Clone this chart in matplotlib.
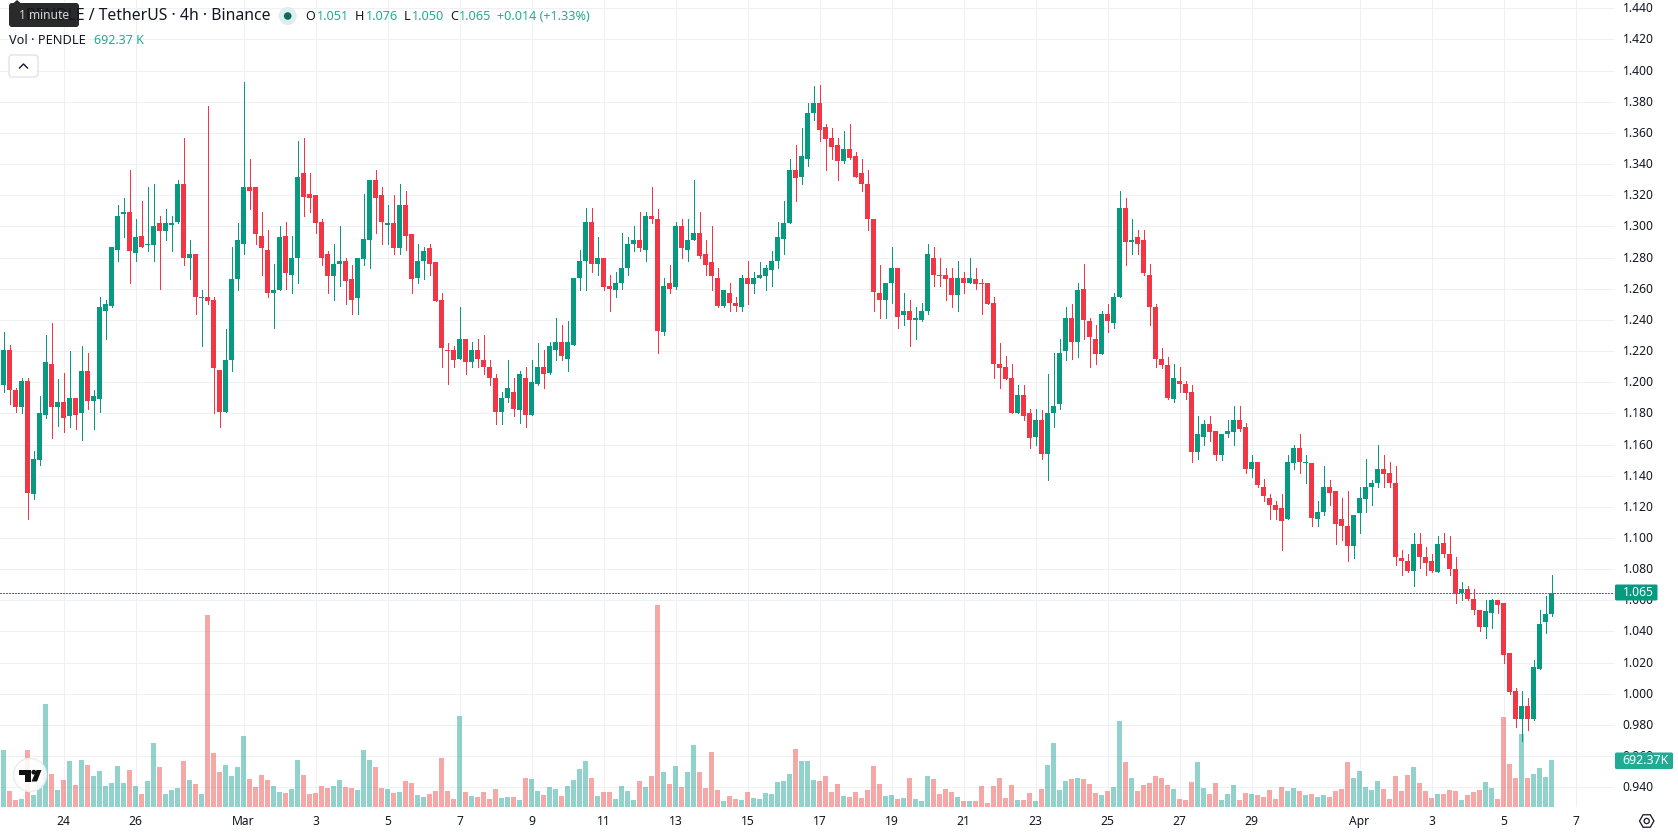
import matplotlib
matplotlib.use("Agg")
import matplotlib.pyplot as plt
from matplotlib.patches import Circle, FancyBboxPatch, Polygon, RegularPolygon
from matplotlib.transforms import ScaledTranslation

plt.rcParams["font.family"] = ["Noto Sans", "DejaVu Sans"]

# PENDLE / USDT, 4h candles, starting 22 Feb 08:00
opens = [
    1.198, 1.221, 1.195, 1.184, 1.201, 1.128, 1.150, 1.179, 1.212, 1.184,
    1.187, 1.178, 1.190, 1.180, 1.207, 1.188, 1.189, 1.246, 1.249, 1.285,
    1.308, 1.309, 1.283, 1.294, 1.288, 1.288, 1.302, 1.297, 1.301, 1.303,
    1.327, 1.280, 1.282, 1.254, 1.255, 1.253, 1.208, 1.181, 1.214, 1.266,
    1.289, 1.325, 1.325, 1.294, 1.285, 1.257, 1.259, 1.294, 1.269, 1.280,
    1.334, 1.321, 1.320, 1.303, 1.282, 1.268, 1.276, 1.278, 1.266, 1.254,
    1.279, 1.291, 1.330, 1.320, 1.301, 1.302, 1.286, 1.314, 1.295, 1.267,
    1.278, 1.286, 1.277, 1.253, 1.221, 1.221, 1.215, 1.228, 1.213, 1.221,
    1.214, 1.210, 1.203, 1.181, 1.190, 1.194, 1.182, 1.203, 1.179, 1.199,
    1.210, 1.206, 1.221, 1.226, 1.215, 1.224, 1.267, 1.278, 1.303, 1.276,
    1.280, 1.262, 1.259, 1.264, 1.273, 1.289, 1.291, 1.285, 1.307, 1.305,
    1.232, 1.264, 1.261, 1.300, 1.285, 1.291, 1.296, 1.282, 1.277, 1.267,
    1.249, 1.257, 1.251, 1.248, 1.267, 1.263, 1.267, 1.268, 1.272, 1.278,
    1.292, 1.302, 1.336, 1.332, 1.343, 1.373, 1.379, 1.364, 1.357, 1.352,
    1.342, 1.350, 1.345, 1.334, 1.327, 1.305, 1.257, 1.253, 1.264, 1.273,
    1.243, 1.246, 1.240, 1.240, 1.246, 1.280, 1.269, 1.269, 1.267, 1.256,
    1.267, 1.264, 1.266, 1.264, 1.264, 1.251, 1.212, 1.210, 1.203, 1.180,
    1.192, 1.180, 1.165, 1.176, 1.154, 1.180, 1.186, 1.220, 1.241, 1.226,
    1.260, 1.239, 1.228, 1.218, 1.244, 1.238, 1.255, 1.312, 1.290, 1.293,
    1.291, 1.269, 1.248, 1.215, 1.211, 1.189, 1.201, 1.199, 1.194, 1.155,
    1.165, 1.173, 1.169, 1.153, 1.167, 1.168, 1.176, 1.171, 1.144, 1.149,
    1.133, 1.126, 1.121, 1.119, 1.112, 1.148, 1.158, 1.148, 1.148, 1.112,
    1.117, 1.133, 1.130, 1.112, 1.108, 1.095, 1.116, 1.125, 1.133, 1.135,
    1.144, 1.142, 1.135, 1.087, 1.085, 1.079, 1.096, 1.088, 1.085, 1.078,
    1.097, 1.090, 1.080, 1.065, 1.067, 1.061, 1.054, 1.043, 1.052, 1.060,
    1.058, 1.026, 1.002, 0.984, 0.992, 0.984, 1.016, 1.046, 1.051,
]
highs = [
    1.232, 1.224, 1.196, 1.203, 1.203, 1.156, 1.191, 1.230, 1.238, 1.202,
    1.206, 1.220, 1.190, 1.223, 1.219, 1.195, 1.255, 1.253, 1.287, 1.314,
    1.318, 1.336, 1.305, 1.316, 1.325, 1.327, 1.307, 1.311, 1.307, 1.330,
    1.357, 1.291, 1.282, 1.259, 1.377, 1.255, 1.208, 1.234, 1.287, 1.302,
    1.393, 1.343, 1.325, 1.309, 1.298, 1.276, 1.300, 1.303, 1.294, 1.355,
    1.357, 1.334, 1.320, 1.305, 1.284, 1.289, 1.300, 1.280, 1.275, 1.280,
    1.321, 1.330, 1.336, 1.325, 1.314, 1.320, 1.327, 1.323, 1.295, 1.289,
    1.287, 1.289, 1.277, 1.257, 1.225, 1.223, 1.248, 1.228, 1.226, 1.228,
    1.230, 1.214, 1.205, 1.194, 1.214, 1.203, 1.207, 1.210, 1.214, 1.225,
    1.221, 1.226, 1.241, 1.237, 1.239, 1.267, 1.285, 1.312, 1.312, 1.293,
    1.280, 1.269, 1.271, 1.296, 1.293, 1.300, 1.309, 1.309, 1.325, 1.311,
    1.267, 1.275, 1.303, 1.305, 1.305, 1.330, 1.309, 1.291, 1.300, 1.273,
    1.259, 1.264, 1.255, 1.269, 1.278, 1.271, 1.277, 1.275, 1.284, 1.303,
    1.316, 1.343, 1.352, 1.363, 1.379, 1.390, 1.391, 1.366, 1.363, 1.357,
    1.361, 1.366, 1.348, 1.343, 1.336, 1.305, 1.275, 1.264, 1.287, 1.273,
    1.257, 1.253, 1.248, 1.251, 1.289, 1.287, 1.280, 1.273, 1.273, 1.278,
    1.271, 1.280, 1.273, 1.266, 1.264, 1.255, 1.225, 1.217, 1.212, 1.198,
    1.198, 1.183, 1.183, 1.182, 1.205, 1.219, 1.228, 1.248, 1.250, 1.264,
    1.276, 1.241, 1.237, 1.246, 1.250, 1.257, 1.323, 1.318, 1.305, 1.298,
    1.298, 1.276, 1.250, 1.222, 1.216, 1.212, 1.210, 1.201, 1.198, 1.178,
    1.176, 1.178, 1.169, 1.167, 1.176, 1.185, 1.185, 1.174, 1.153, 1.149,
    1.138, 1.128, 1.124, 1.128, 1.153, 1.160, 1.167, 1.153, 1.148, 1.124,
    1.146, 1.137, 1.130, 1.126, 1.130, 1.115, 1.133, 1.151, 1.137, 1.160,
    1.153, 1.149, 1.146, 1.092, 1.090, 1.103, 1.103, 1.094, 1.090, 1.101,
    1.103, 1.101, 1.088, 1.072, 1.069, 1.067, 1.054, 1.060, 1.061, 1.060,
    1.058, 1.026, 1.004, 1.002, 0.997, 1.022, 1.054, 1.063, 1.076,
]
lows = [
    1.194, 1.186, 1.181, 1.180, 1.112, 1.125, 1.147, 1.177, 1.164, 1.172,
    1.168, 1.171, 1.170, 1.163, 1.183, 1.170, 1.181, 1.228, 1.248, 1.278,
    1.293, 1.264, 1.278, 1.287, 1.284, 1.278, 1.260, 1.291, 1.284, 1.302,
    1.275, 1.266, 1.244, 1.223, 1.250, 1.180, 1.171, 1.181, 1.207, 1.259,
    1.282, 1.311, 1.289, 1.269, 1.255, 1.235, 1.259, 1.260, 1.257, 1.264,
    1.307, 1.309, 1.296, 1.275, 1.257, 1.253, 1.262, 1.250, 1.244, 1.244,
    1.275, 1.273, 1.296, 1.289, 1.289, 1.282, 1.282, 1.285, 1.257, 1.264,
    1.266, 1.269, 1.252, 1.210, 1.199, 1.210, 1.215, 1.205, 1.210, 1.210,
    1.205, 1.198, 1.173, 1.173, 1.187, 1.178, 1.174, 1.171, 1.179, 1.198,
    1.196, 1.205, 1.214, 1.214, 1.207, 1.224, 1.259, 1.259, 1.271, 1.269,
    1.259, 1.246, 1.255, 1.260, 1.269, 1.284, 1.284, 1.278, 1.302, 1.219,
    1.230, 1.257, 1.260, 1.280, 1.278, 1.291, 1.280, 1.269, 1.259, 1.248,
    1.248, 1.246, 1.246, 1.246, 1.250, 1.257, 1.267, 1.259, 1.262, 1.273,
    1.282, 1.302, 1.316, 1.327, 1.339, 1.368, 1.355, 1.336, 1.343, 1.330,
    1.341, 1.343, 1.332, 1.323, 1.298, 1.246, 1.241, 1.241, 1.251, 1.235,
    1.237, 1.223, 1.228, 1.239, 1.244, 1.262, 1.262, 1.253, 1.248, 1.246,
    1.257, 1.264, 1.260, 1.244, 1.250, 1.203, 1.196, 1.202, 1.180, 1.180,
    1.176, 1.158, 1.160, 1.151, 1.137, 1.171, 1.183, 1.214, 1.215, 1.216,
    1.228, 1.210, 1.212, 1.218, 1.232, 1.235, 1.255, 1.275, 1.282, 1.282,
    1.269, 1.237, 1.210, 1.209, 1.189, 1.187, 1.194, 1.189, 1.149, 1.151,
    1.160, 1.162, 1.150, 1.150, 1.165, 1.160, 1.169, 1.142, 1.139, 1.133,
    1.124, 1.112, 1.112, 1.092, 1.112, 1.144, 1.142, 1.135, 1.108, 1.108,
    1.115, 1.121, 1.096, 1.099, 1.085, 1.087, 1.103, 1.117, 1.121, 1.133,
    1.133, 1.133, 1.083, 1.076, 1.078, 1.069, 1.081, 1.076, 1.078, 1.078,
    1.088, 1.076, 1.058, 1.060, 1.060, 1.051, 1.040, 1.036, 1.042, 1.052,
    1.020, 1.000, 0.979, 0.970, 0.977, 0.983, 1.016, 1.039, 1.050,
]
closes = [
    1.221, 1.195, 1.184, 1.201, 1.129, 1.151, 1.180, 1.213, 1.184, 1.187,
    1.177, 1.190, 1.179, 1.207, 1.188, 1.191, 1.248, 1.250, 1.287, 1.307,
    1.309, 1.284, 1.293, 1.287, 1.289, 1.300, 1.297, 1.302, 1.302, 1.327,
    1.280, 1.282, 1.255, 1.255, 1.252, 1.209, 1.181, 1.214, 1.266, 1.291,
    1.325, 1.323, 1.295, 1.286, 1.257, 1.259, 1.293, 1.270, 1.280, 1.332,
    1.319, 1.318, 1.302, 1.280, 1.268, 1.276, 1.278, 1.265, 1.253, 1.280,
    1.292, 1.330, 1.318, 1.303, 1.302, 1.286, 1.314, 1.294, 1.266, 1.278,
    1.284, 1.276, 1.252, 1.222, 1.220, 1.214, 1.228, 1.213, 1.221, 1.215,
    1.210, 1.203, 1.181, 1.190, 1.196, 1.183, 1.205, 1.179, 1.200, 1.210,
    1.205, 1.223, 1.226, 1.217, 1.226, 1.267, 1.278, 1.303, 1.276, 1.280,
    1.261, 1.260, 1.264, 1.273, 1.289, 1.291, 1.286, 1.307, 1.305, 1.233,
    1.262, 1.260, 1.300, 1.286, 1.291, 1.296, 1.281, 1.275, 1.268, 1.249,
    1.259, 1.251, 1.249, 1.267, 1.263, 1.267, 1.269, 1.273, 1.278, 1.293,
    1.302, 1.336, 1.331, 1.345, 1.373, 1.379, 1.362, 1.356, 1.351, 1.342,
    1.350, 1.344, 1.332, 1.327, 1.305, 1.258, 1.253, 1.264, 1.273, 1.242,
    1.246, 1.240, 1.241, 1.246, 1.282, 1.269, 1.268, 1.266, 1.256, 1.267,
    1.264, 1.267, 1.263, 1.263, 1.250, 1.212, 1.209, 1.202, 1.180, 1.192,
    1.178, 1.164, 1.176, 1.154, 1.180, 1.185, 1.219, 1.241, 1.226, 1.259,
    1.240, 1.229, 1.218, 1.244, 1.239, 1.255, 1.312, 1.290, 1.291, 1.289,
    1.270, 1.248, 1.215, 1.211, 1.190, 1.203, 1.199, 1.193, 1.155, 1.167,
    1.173, 1.168, 1.153, 1.167, 1.169, 1.176, 1.170, 1.144, 1.149, 1.134,
    1.127, 1.121, 1.118, 1.111, 1.149, 1.158, 1.149, 1.149, 1.113, 1.117,
    1.133, 1.129, 1.109, 1.108, 1.095, 1.115, 1.126, 1.133, 1.135, 1.144,
    1.141, 1.135, 1.088, 1.085, 1.079, 1.096, 1.088, 1.084, 1.079, 1.096,
    1.090, 1.080, 1.064, 1.067, 1.061, 1.054, 1.043, 1.053, 1.060, 1.057,
    1.025, 1.001, 0.984, 0.992, 0.984, 1.017, 1.045, 1.051, 1.065,
]
volumes_k = [
    840, 236, 103, 118, 840, 177, 324, 1517, 486, 250,
    398, 678, 324, 692, 619, 457, 530, 309, 354, 604,
    354, 545, 309, 191, 383, 943, 589, 191, 250, 280,
    678, 398, 339, 191, 2828, 795, 516, 619, 457, 589,
    1046, 412, 295, 471, 398, 309, 221, 206, 265, 692,
    471, 191, 206, 309, 280, 309, 398, 295, 280, 250,
    840, 692, 589, 280, 265, 206, 221, 383, 354, 177,
    147, 191, 236, 722, 236, 118, 1340, 221, 162, 147,
    221, 118, 265, 133, 147, 147, 103, 427, 412, 236,
    177, 295, 265, 162, 309, 398, 560, 678, 427, 162,
    221, 221, 118, 309, 236, 103, 383, 295, 457, 2975,
    516, 339, 604, 295, 516, 913, 516, 280, 810, 250,
    88, 162, 118, 103, 221, 133, 118, 206, 191, 368,
    383, 486, 854, 678, 678, 398, 383, 457, 221, 339,
    162, 147, 221, 133, 250, 604, 339, 162, 177, 118,
    133, 427, 118, 88, 457, 412, 191, 265, 221, 147,
    88, 88, 88, 309, 59, 309, 427, 133, 324, 103,
    103, 206, 88, 265, 619, 943, 250, 383, 412, 427,
    412, 339, 206, 177, 236, 295, 1267, 663, 427, 236,
    324, 354, 457, 427, 324, 265, 118, 103, 368, 663,
    280, 191, 354, 103, 191, 324, 103, 206, 191, 177,
    147, 250, 118, 295, 236, 280, 236, 177, 191, 147,
    177, 147, 236, 265, 663, 427, 530, 295, 250, 383,
    265, 118, 457, 236, 471, 589, 354, 236, 133, 191,
    191, 250, 236, 103, 177, 221, 250, 368, 280, 118,
    1326, 633, 427, 1075, 427, 486, 574, 442, 692.37,
]

price_ticks = [1.44 - 0.02 * k for k in range(26)]
date_labels = ["24", "26", "Mar", "3", "5", "7", "9", "11", "13", "15", "17", "19",
               "21", "23", "25", "27", "29", "Apr", "3", "5", "7"]
date_candle_index = [10, 22, 40, 52, 64, 76, 88, 100, 112, 124, 136, 148,
                     160, 172, 184, 196, 208, 226, 238, 250, 262]
last_price = 1.065
last_volume_label = "692.37K"

UP, DOWN = "#089981", "#F23645"
UP_VOL, DOWN_VOL = "#26A69A", "#EF5350"
INK = "#131722"
GRID = "#EEF0F3"
TEAL = "#22AB94"

W, H = 1678, 835
fig = plt.figure(figsize=(W / 100, H / 100), dpi=100, facecolor="white")

# One candle is 6 px wide, the plotting area spans 0..1614 px across and 0..807 px down
PANE_W, PANE_H = 1614, 807
rect = [0, 1 - PANE_H / H, PANE_W / W, PANE_H / H]
xlim = (-3.5 / 6, (PANE_W - 3.5) / 6)
ylim = (0.94 - (PANE_H - 787.3) / 1558, 0.94 + 787.3 / 1558)
KPX = 14.73  # thousand units of volume per pixel of bar height

# Bottom layer: grid and axis labels
ax = fig.add_axes(rect)
ax.set_xlim(xlim)
ax.set_ylim(ylim)
for s in ax.spines.values():
    s.set_visible(False)
ax.set_axisbelow(True)
ax.grid(True, color=GRID, lw=0.72)
ax.yaxis.tick_right()
ax.set_yticks(price_ticks)
ax.set_yticklabels([f"{p:.3f}" for p in price_ticks])
ax.set_xticks(date_candle_index)
ax.set_xticklabels(date_labels)
ax.tick_params(axis="y", length=0, pad=6.2, labelsize=8.7, labelcolor=INK)
ax.tick_params(axis="x", length=0, pad=5.5, labelsize=8.7, labelcolor=INK)
for lab in ax.get_xticklabels():
    if lab.get_text() in ("Mar", "Apr"):
        lab.set_fontweight("bold")
# The price labels sit one pixel above their grid lines
nudge_up = ScaledTranslation(0, 1 / 100, fig.dpi_scale_trans)
for lab in ax.get_yticklabels():
    lab.set_transform(lab.get_transform() + nudge_up)

xs = list(range(len(closes)))
rising = [c >= o for o, c in zip(opens, closes)]

# Middle layer: volume histogram on its own scale
ax_vol = fig.add_axes(rect, sharex=ax, zorder=1)
ax_vol.patch.set_alpha(0)
ax_vol.axis("off")
ax_vol.set_ylim(0, PANE_H * KPX)
ax_vol.bar(xs, volumes_k, width=5 / 6, linewidth=0, alpha=0.5,
           color=[UP_VOL if r else DOWN_VOL for r in rising])

# Top layer: candlesticks and the last-price line
ax_px = fig.add_axes(rect, sharex=ax, sharey=ax, zorder=2)
ax_px.patch.set_alpha(0)
ax_px.axis("off")
colors = [UP if r else DOWN for r in rising]
ax_px.vlines(xs, lows, highs, colors=colors, linewidth=0.72, antialiased=False)
ax_px.bar(xs, [abs(c - o) for o, c in zip(opens, closes)],
          bottom=[min(o, c) for o, c in zip(opens, closes)],
          width=5 / 6, color=colors, linewidth=0)
ax_px.axhline(last_price, color=UP, lw=0.72, ls=(0, (1.5, 2)), antialiased=False)
ax_px.set_xlim(xlim)
ax_px.set_ylim(ylim)

# Overlay in screen pixels for the legend, tags and buttons
ui = fig.add_axes([0, 0, 1, 1], zorder=5)
ui.set_xlim(0, W)
ui.set_ylim(H, 0)
ui.axis("off")
ui.patch.set_alpha(0)

ui.text(270.7, 16, "PENDLE / TetherUS · 4h · Binance", fontsize=11.35, color=INK,
        ha="right", va="center")

ui.add_patch(Polygon([(13, 3.5), (17, 0), (21, 3.5)], closed=True, fc="#2A2A2A", ec="none"))
ui.add_patch(FancyBboxPatch((12, 6), 64, 18, boxstyle="round,pad=3,rounding_size=3",
                            fc="#2A2A2A", ec="none"))
ui.text(44, 15.5, "1 minute", fontsize=8.6, color="#D6D6D6", ha="center", va="center")

ui.add_patch(Circle((287.7, 16), 9, fc="#DCEFEC", ec="none"))
ui.add_patch(Circle((287.7, 16), 3.8, fc="#0B6B58", ec="none"))

for x, letter in [(305, "O"), (355, "H"), (404, "L"), (450, "C")]:
    ui.text(x, 16, letter, fontsize=9.1, color=INK, va="center")
for x, value in [(317, "1.051"), (365.5, "1.076"), (411.5, "1.050"), (459, "1.065"),
                 (497, "+0.014 (+1.33%)")]:
    ui.text(x, 16, value, fontsize=9.1, color=TEAL, va="center")

ui.text(9, 40.5, "Vol · PENDLE", fontsize=9.2, color=INK, va="center")
ui.text(93.5, 40.5, "692.37 K", fontsize=9, color=TEAL, va="center")

ui.add_patch(FancyBboxPatch((11, 57), 25, 18, boxstyle="round,pad=2,rounding_size=3",
                            fc="white", ec="#E0E3EB", lw=1))
ui.plot([19.5, 23.5, 27.5], [68, 64, 68], color=INK, lw=1)

# Tags on the price axis
ui.add_patch(FancyBboxPatch((1615, 584.5), 42.5, 16, boxstyle="round,pad=0,rounding_size=1.5",
                            fc=UP, ec="none"))
ui.text(1622.5, 592, f"{last_price:.3f}", fontsize=8.7, color="white", va="center")
ui.add_patch(FancyBboxPatch((1615, 752.5), 58, 16.5, boxstyle="round,pad=0,rounding_size=1.5",
                            fc=TEAL, ec="none"))
ui.text(1622.5, 760.2, last_volume_label, fontsize=8.9, color="white", va="center")

# Corner logo
ui.add_patch(Circle((30, 775), 16.5, fc=(1, 1, 1, 0.88), ec="#ECECEC", lw=1))
ui.add_patch(Polygon([(19, 770), (30.5, 770), (30.5, 781.5), (25, 781.5), (25, 775), (19, 775)],
                     closed=True, fc="#111111", ec="none"))
ui.add_patch(Circle((33.8, 772.2), 2.4, fc="#111111", ec="none"))
ui.add_patch(Polygon([(36.5, 770), (41.5, 770), (37, 781.5), (31.5, 781.5)],
                     closed=True, fc="#111111", ec="none"))

# Chart settings icon
ui.add_patch(RegularPolygon((1646.7, 821), 6, radius=7.2, orientation=3.14159 / 6,
                            fc="white", ec=INK, lw=0.9))
ui.add_patch(Circle((1646.7, 821), 2.6, fc="white", ec=INK, lw=0.9))

fig.savefig("out.png", dpi=100, facecolor="white")
